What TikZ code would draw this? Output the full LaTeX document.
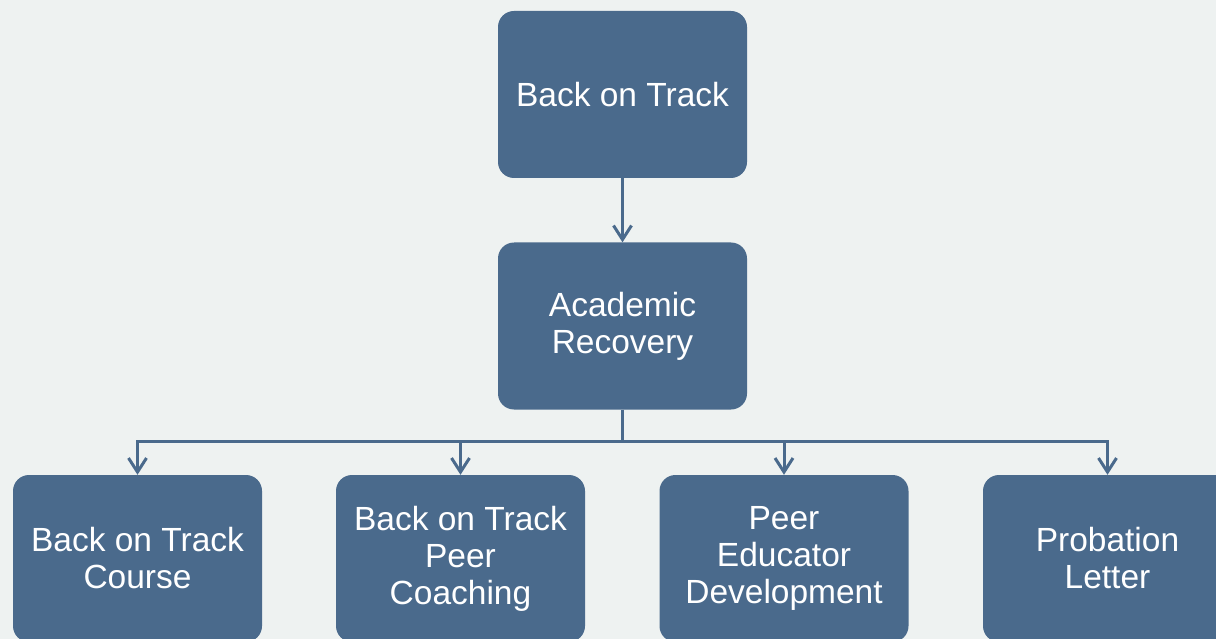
\documentclass[tikz,border=0pt]{standalone}
\usepackage{fontspec}
\setmainfont{Liberation Sans}
\usetikzlibrary{arrows.meta}
\definecolor{bgcol}{HTML}{EEF2F1}
\definecolor{boxcol}{HTML}{4A6A8C}
\tikzset{
  box/.style={rectangle, rounded corners=16pt, fill=boxcol, text=white,
    minimum width=249pt, minimum height=167pt, inner sep=0pt, align=center,
    font=\fontsize{33.5}{37}\selectfont},
  link/.style={draw=boxcol, line width=3pt},
  arr/.style={link, -{Straight Barb[length=14pt,width=18pt]}}
}
\begin{document}
\begin{tikzpicture}[x=1pt,y=-1pt]
\useasboundingbox (0,0) rectangle (1216,639);
\fill[bgcol] (0,0) rectangle (1216,639);
\clip (0,0) rectangle (1216,639);
\node[box] (top) at (622.5,94.5) {Back on Track};
\node[box] (mid) at (622.5,326) {Academic\\Recovery};
\node[box] (b1) at (137.5,558.5) {Back on Track\\Course};
\node[box] (b2) at (460.5,558.5) {Back on Track\\Peer\\Coaching};
\node[box] (b3) at (784,558.5) {Peer\\Educator\\Development};
\node[box] (b4) at (1107.5,558.5) {Probation\\Letter};
\coordinate (bus) at (622.5,441);
\draw[arr] (top) -- (mid);
\draw[link] (mid.south) -- (bus);
\draw[arr] (bus) -| (b1.north);
\draw[arr] (bus) -| (b2.north);
\draw[arr] (bus) -| (b3.north);
\draw[arr] (bus) -| (b4.north);
\end{tikzpicture}
\end{document}
